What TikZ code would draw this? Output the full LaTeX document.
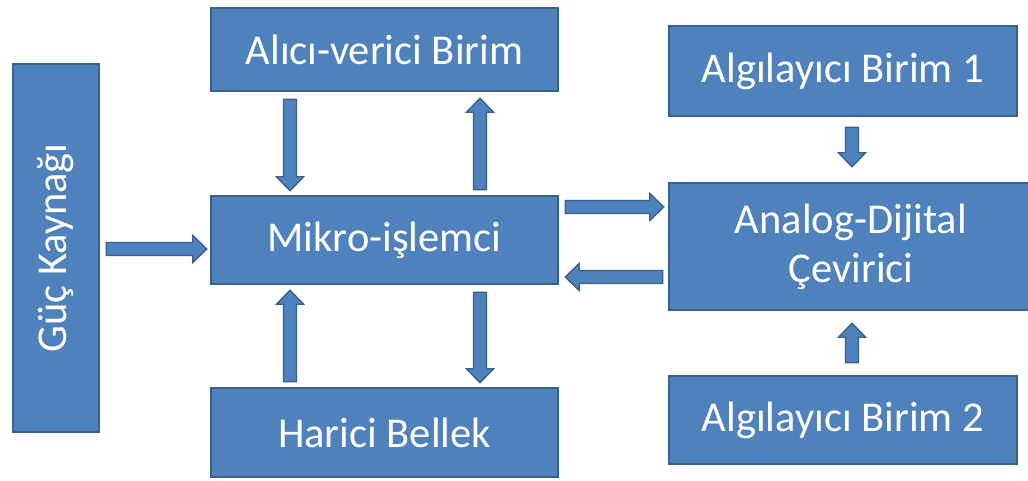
\documentclass[tikz,border=0pt]{standalone}
\usepackage{fontspec}
\usepackage{graphicx}
\setmainfont{Carlito}
\usetikzlibrary{calc}
\definecolor{boxfill}{HTML}{4F81BD}
\definecolor{boxline}{HTML}{3A5F8B}
\tikzset{
  label text/.style={text=white, font=\fontsize{42.5}{49}\selectfont, inner sep=0pt, align=center},
  box/.style={label text, draw=boxline, fill=boxfill, line width=2.5pt},
  % block arrow: shaft 13pt wide, head 27pt wide and 14pt long
  blockarrow/.style={draw=boxline, fill=boxfill, line width=1.4pt, line join=miter,
    to path={let \p1=(\tikztostart), \p2=(\tikztotarget),
      \n1={atan2(\y2-\y1,\x2-\x1)}, \n2={veclen(\x2-\x1,\y2-\y1)-14pt} in
      ($(\p1)+(\n1+90:6.5pt)$)
      -- ($(\p1)+(\n1+90:6.5pt)+(\n1:\n2)$)
      -- ($(\p1)+(\n1+90:13.5pt)+(\n1:\n2)$)
      -- (\p2)
      -- ($(\p1)+(\n1-90:13.5pt)+(\n1:\n2)$)
      -- ($(\p1)+(\n1-90:6.5pt)+(\n1:\n2)$)
      -- ($(\p1)+(\n1-90:6.5pt)$) -- cycle}}
}
\begin{document}
\begin{tikzpicture}[x=1pt,y=-1pt]
  \useasboundingbox (0,0) rectangle (1028,481);

  % blocks
  \node[box, minimum width=86, minimum height=368] (guc) at (56,248)
    {\rotatebox{90}{Güç Kaynağı}};
  \node[box, minimum width=347, minimum height=83] (alici) at (384.5,49.5) {Alıcı-verici Birim};
  \node[box, minimum width=347, minimum height=88] (mikro) at (384.5,240) {Mikro-işlemci};
  \node[box, minimum width=347, minimum height=89] (harici) at (384.5,432.5) {Harici Bellek};
  \node[box, minimum width=348, minimum height=90] (alg1) at (843,71) {Algılayıcı Birim 1};
  % the converter block runs past the right edge
  \node[box, minimum width=380, minimum height=127] (analog) at (859,246.5) {};
  \node[label text] (analogtext) at (851,247) {Analog-Dijital\\Çevirici};
  \node[box, minimum width=348, minimum height=88] (alg2) at (843,420) {Algılayıcı Birim 2};

  % connections
  \draw[blockarrow] ($(guc.east)+(6,1)$) to ($(mikro.west)+(-3,9)$);
  \draw[blockarrow] ($(alici.south)+(-94.5,7)$) to ($(mikro.north)+(-94.5,-4)$);
  \draw[blockarrow] ($(mikro.north)+(95.5,-5)$) to ($(alici.south)+(95.5,6)$);
  \draw[blockarrow] ($(harici.north)+(-94.5,-5)$) to ($(mikro.south)+(-94.5,5)$);
  \draw[blockarrow] ($(mikro.south)+(95.5,7)$) to ($(harici.north)+(95.5,-4)$);
  \draw[blockarrow] ($(mikro.east)+(6,-33)$) to ($(analog.west)+(-4,-39.5)$);
  \draw[blockarrow] ($(analog.west)+(-5,30.5)$) to ($(mikro.east)+(6,37)$);
  \draw[blockarrow] ($(alg1.south)+(9,10)$) to ($(analog.north)+(-7,-15)$);
  \draw[blockarrow] ($(alg2.north)+(9,-12)$) to ($(analog.south)+(-7,12)$);
\end{tikzpicture}
\end{document}
